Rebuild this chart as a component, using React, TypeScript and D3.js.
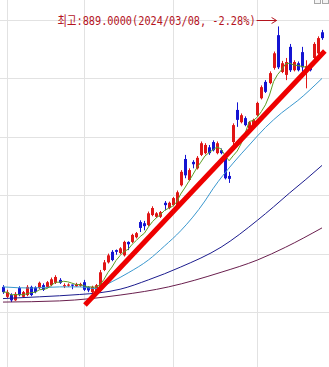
import React from "react";
import * as d3 from "d3";

const W = 329;
const H = 367;

// Daily candles (price units)
const open = [
  443, 426, 429, 420, 441, 426, 429, 443, 442, 441,
  446, 443, 446, 450, 455, 444, 445, 447, 444, 445,
  451, 443, 434, 436, 437, 472, 485, 503, 506, 501,
  497, 520, 520, 528, 554, 552, 549, 566, 563, 563,
  587, 578, 583, 583, 617, 662, 626, 657, 646, 669,
  672, 682, 691, 672, 677, 664, 633, 691, 746, 725,
  732, 715, 717, 737, 766, 794, 792, 818, 874, 811,
  806, 854, 814, 826, 845, 811, 821, 835, 843, 879,
];
const high = [
  446, 438, 432, 434, 444, 436, 446, 445, 444, 452,
  449, 453, 459, 463, 458, 449, 449, 447, 450, 450,
  455, 444, 445, 448, 472, 489, 500, 506, 507, 511,
  522, 521, 534, 537, 557, 556, 572, 581, 571, 573,
  590, 589, 597, 608, 643, 669, 646, 660, 667, 692,
  689, 686, 694, 692, 680, 667, 640, 723, 759, 740,
  735, 727, 731, 760, 788, 797, 812, 846, 889, 830,
  835, 859, 831, 829, 854, 831, 823, 862, 872, 883,
];
const low = [
  431, 424, 417, 419, 427, 424, 427, 427, 432, 439,
  436, 441, 444, 448, 448, 441, 443, 439, 443, 443,
  436, 434, 431, 434, 435, 470, 483, 487, 498, 499,
  495, 506, 518, 526, 537, 540, 547, 564, 561, 561,
  574, 576, 581, 580, 615, 629, 624, 646, 644, 667,
  670, 669, 675, 670, 670, 627, 621, 686, 717, 723,
  718, 713, 715, 735, 764, 775, 790, 815, 816, 809,
  797, 811, 812, 812, 806, 783, 812, 833, 841, 866,
];
const close = [
  434, 434, 420, 431, 429, 434, 443, 429, 434, 450,
  438, 451, 456, 460, 450, 446, 447, 445, 448, 448,
  438, 437, 443, 446, 468, 485, 497, 489, 503, 509,
  520, 516, 532, 535, 544, 547, 569, 578, 569, 571,
  583, 587, 595, 605, 640, 634, 643, 653, 664, 689,
  686, 672, 677, 689, 672, 629, 628, 720, 729, 737,
  720, 725, 729, 758, 785, 777, 809, 843, 819, 826,
  828, 814, 828, 814, 819, 821, 814, 859, 869, 869,
];

// Longer moving averages: [candle index, price]
const ma20: [number, number][] = [
  [0, 443], [7, 441], [14, 443], [19, 443], [23, 440], [27, 452], [31, 467],
  [36, 489], [40, 513], [44, 539], [50, 590], [52, 611], [57, 655], [61, 686],
  [65, 716], [69, 741], [73, 762], [79, 800],
];
const ma60: [number, number][] = [
  [0, 423], [9, 426], [19, 430], [24, 433], [29, 439], [36, 455], [44, 477],
  [54, 511], [63, 557], [67, 580], [71, 604], [75, 627], [79, 651],
];
const ma120: [number, number][] = [
  [0, 417], [14, 419], [29, 429], [41, 443], [54, 468], [63, 489], [70, 511], [79, 544],
];

// Trend line drawn on the chart: [candle index, price]
const trend: [number, number][] = [[20.3, 412], [79.7, 847]];

// Grid
const priceTicks = [400, 500, 600, 700, 800, 900];
const dateGridIdx = [1, 20, 42, 63];

// Peak annotation
const peakLabel = "최고:889.0000(2024/03/08, -2.28%)";
const peakIdx = 68;
const peakPrice = 889;

const UP = "#e01616";
const DOWN = "#1414d2";

export default function App() {
  const n = close.length;
  const x = d3.scaleLinear().domain([0, n - 1]).range([3, 322]);
  const y = d3.scaleLinear().domain([400, 900]).range([312, 20]);

  const ma5: [number, number][] = close.map((_, i) => {
    const s = close.slice(Math.max(0, i - 4), i + 1);
    return [i, d3.mean(s) as number];
  });

  const curve = d3
    .line<[number, number]>()
    .x((d) => x(d[0]))
    .y((d) => y(d[1]))
    .curve(d3.curveMonotoneX);
  const straight = d3
    .line<[number, number]>()
    .x((d) => x(d[0]))
    .y((d) => y(d[1]));

  const arrowEnd = x(peakIdx) - 1;
  const arrowY = y(900);
  const textEnd = arrowEnd - 21;

  return (
    <svg
      width={W}
      height={H}
      style={{ position: "absolute", left: 0, top: 0, background: "#fff" }}
    >
      <rect x={0} y={0} width={W} height={H} fill="#fff" />
      {/* grid */}
      {priceTicks.map((p) => (
        <line
          key={"h" + p}
          x1={0}
          x2={W}
          y1={Math.round(y(p)) + 0.5}
          y2={Math.round(y(p)) + 0.5}
          stroke="#e2e2e2"
        />
      ))}
      {dateGridIdx.map((i) => (
        <line
          key={"v" + i}
          x1={Math.round(x(i)) + 0.5}
          x2={Math.round(x(i)) + 0.5}
          y1={0}
          y2={H}
          stroke="#e2e2e2"
        />
      ))}

      {/* candles */}
      {close.map((c, i) => {
        const o = open[i];
        const up = c >= o;
        const col = up ? UP : DOWN;
        const cx = Math.round(x(i));
        const top = y(Math.max(o, c));
        const bot = y(Math.min(o, c));
        return (
          <g key={"c" + i}>
            <line
              x1={cx + 0.5}
              x2={cx + 0.5}
              y1={y(high[i])}
              y2={y(low[i])}
              stroke={col}
              strokeWidth={1}
            />
            <rect
              x={cx - 1}
              y={top}
              width={3}
              height={Math.max(1, bot - top)}
              fill={col}
            />
          </g>
        );
      })}

      {/* moving averages */}
      <path d={curve(ma120) || ""} fill="none" stroke="#6a1f4e" strokeWidth={1} />
      <path d={curve(ma60) || ""} fill="none" stroke="#1c1c8e" strokeWidth={1} />
      <path d={curve(ma20) || ""} fill="none" stroke="#3b98cf" strokeWidth={1} />
      <path d={straight(ma5) || ""} fill="none" stroke="#5c9e22" strokeWidth={1} />

      {/* trend line */}
      <path d={straight(trend) || ""} fill="none" stroke="#ee0000" strokeWidth={5} />

      {/* peak annotation */}
      <text
        x={textEnd}
        y={24.5}
        textAnchor="end"
        fontFamily="'DejaVu Sans Mono', 'Noto Sans CJK KR', monospace"
        fontSize={13}
        fill="#b4141e"
        textLength={198}
        lengthAdjust="spacingAndGlyphs"
      >
        {peakLabel}
      </text>
      <line
        x1={textEnd + 1}
        x2={arrowEnd}
        y1={arrowY + 0.5}
        y2={arrowY + 0.5}
        stroke="#b4141e"
        strokeWidth={1}
      />
      <polyline
        points={`${arrowEnd - 5},${arrowY - 2.5} ${arrowEnd},${arrowY + 0.5} ${arrowEnd - 5},${arrowY + 3.5}`}
        fill="none"
        stroke="#b4141e"
        strokeWidth={1}
      />
      {/* tiny peak marker reference (kept invisible, for data link) */}
      <circle cx={x(peakIdx)} cy={y(peakPrice)} r={0} fill="none" />

      {/* window icons at top-right */}
      <rect x={314.5} y={-3.5} width={6} height={7} fill="#f4f4f4" stroke="#a8a8a8" />
      <rect x={322.5} y={-3.5} width={6} height={7} fill="#f4f4f4" stroke="#a8a8a8" />
    </svg>
  );
}
